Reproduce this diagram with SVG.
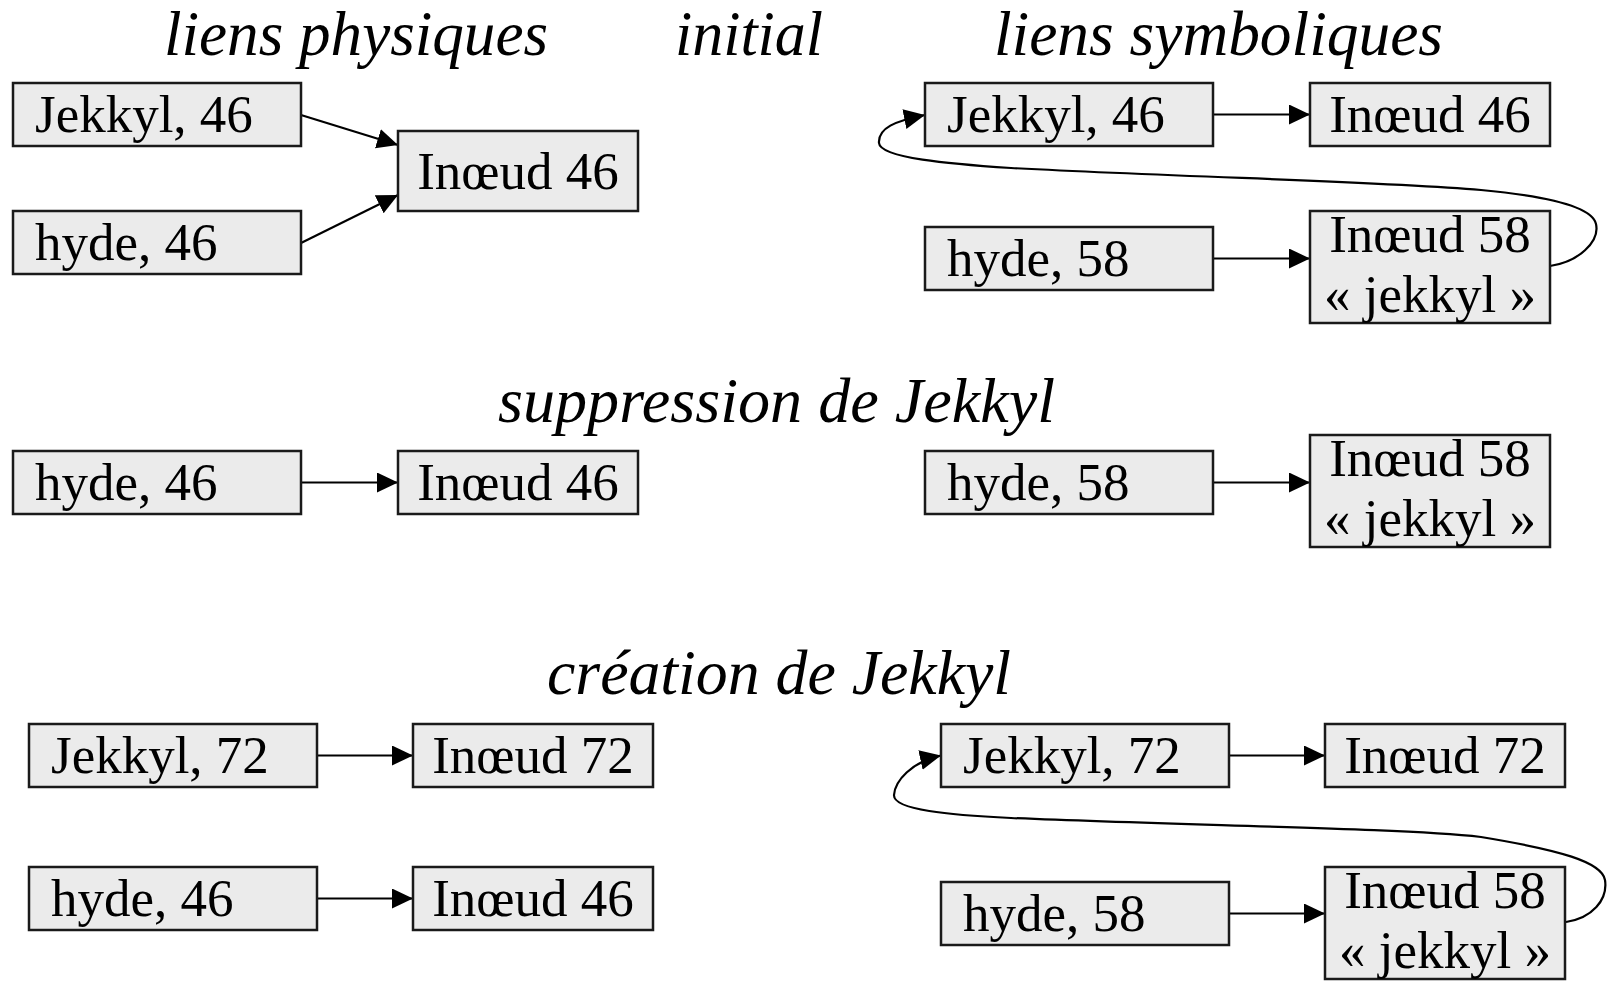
<svg xmlns="http://www.w3.org/2000/svg" width="1607" height="981" viewBox="0 0 1607 981">
  <style>
    .box { fill: #ebebeb; stroke: #1a1a1a; stroke-width: 2.5; }
    .lbl { font-family: "Liberation Serif", "Times New Roman", serif; font-size: 53px; fill: #000; }
    .ctr { text-anchor: middle; }
    .title { font-family: "Liberation Serif", "Times New Roman", serif; font-style: italic; font-size: 64px; fill: #000; }
    .edge { fill: none; stroke: #000; stroke-width: 2.2; marker-end: url(#arrow); }
  </style>
  <defs>
    <marker id="arrow" markerUnits="userSpaceOnUse" markerWidth="22" markerHeight="22" refX="21" refY="10" orient="auto">
      <path d="M0,0 L21,10 L0,20 Z" fill="#000"/>
    </marker>
  </defs>
  <rect width="1607" height="981" fill="#fff"/>

  <!-- headings -->
  <g id="titles">
    <text class="title" x="164" y="55" textLength="384" lengthAdjust="spacingAndGlyphs">liens physiques</text>
    <text class="title" x="675" y="55" textLength="148" lengthAdjust="spacingAndGlyphs">initial</text>
    <text class="title" x="994" y="55" textLength="449" lengthAdjust="spacingAndGlyphs">liens symboliques</text>
    <text class="title" x="498" y="422" textLength="557" lengthAdjust="spacingAndGlyphs">suppression de Jekkyl</text>
    <text class="title" x="547" y="694" textLength="464" lengthAdjust="spacingAndGlyphs">création de Jekkyl</text>
  </g>

  <!-- connectors -->
  <g id="connectors">
    <!-- initial, hard links -->
    <path class="edge" d="M301,115 L398,145"/>
    <path class="edge" d="M301,243 L398,195"/>
    <!-- initial, symbolic links -->
    <path class="edge" d="M1213,114.5 L1310,114.5"/>
    <path class="edge" d="M1213,258.5 L1310,258.5"/>
    <path class="edge" d="M1550,266 C1578,262 1600,242 1596,224 C1592,206 1545,196 1481,190 C1380,181 1200,178 1011,168 C950,164 880,158 879,143 C878,128 895,121 925,115"/>
    <!-- after removal -->
    <path class="edge" d="M301,482.5 L398,482.5"/>
    <path class="edge" d="M1213,482.5 L1310,482.5"/>
    <!-- after creation -->
    <path class="edge" d="M317,755.5 L413,755.5"/>
    <path class="edge" d="M317,898.5 L413,898.5"/>
    <path class="edge" d="M1229,755.5 L1325,755.5"/>
    <path class="edge" d="M1229,913.5 L1325,913.5"/>
    <path class="edge" d="M1566,922 C1592,918 1608,900 1605,880 C1602,862 1560,850 1481,837 C1400,828 1200,826 1011,818 C950,815 893,810 894,795 C895,781 911,762 941,755.5"/>
  </g>

  <!-- initial state, hard links -->
  <g id="n-jekkyl46-h">
    <rect class="box" x="13" y="83" width="288" height="63"/>
    <text class="lbl" x="35" y="132">Jekkyl, 46</text>
  </g>
  <g id="n-hyde46-h">
    <rect class="box" x="13" y="211" width="288" height="63"/>
    <text class="lbl" x="35" y="260">hyde, 46</text>
  </g>
  <g id="n-inode46-h">
    <rect class="box" x="398" y="131" width="240" height="80"/>
    <text class="lbl ctr" x="518" y="188.5">Inœud 46</text>
  </g>

  <!-- initial state, symbolic links -->
  <g id="n-jekkyl46-s">
    <rect class="box" x="925" y="83" width="288" height="63"/>
    <text class="lbl" x="947" y="132">Jekkyl, 46</text>
  </g>
  <g id="n-inode46-s">
    <rect class="box" x="1310" y="83" width="240" height="63"/>
    <text class="lbl ctr" x="1430" y="132">Inœud 46</text>
  </g>
  <g id="n-hyde58-s">
    <rect class="box" x="925" y="227" width="288" height="63"/>
    <text class="lbl" x="947" y="276">hyde, 58</text>
  </g>
  <g id="n-inode58-s">
    <rect class="box" x="1310" y="211" width="240" height="112"/>
    <text class="lbl ctr" x="1430" y="252">Inœud 58</text>
    <text class="lbl ctr" x="1430" y="311.5">« jekkyl »</text>
  </g>

  <!-- after removing Jekkyl -->
  <g id="n-hyde46-rm">
    <rect class="box" x="13" y="451" width="288" height="63"/>
    <text class="lbl" x="35" y="500">hyde, 46</text>
  </g>
  <g id="n-inode46-rm">
    <rect class="box" x="398" y="451" width="240" height="63"/>
    <text class="lbl ctr" x="518" y="500">Inœud 46</text>
  </g>
  <g id="n-hyde58-rm">
    <rect class="box" x="925" y="451" width="288" height="63"/>
    <text class="lbl" x="947" y="500">hyde, 58</text>
  </g>
  <g id="n-inode58-rm">
    <rect class="box" x="1310" y="435" width="240" height="112"/>
    <text class="lbl ctr" x="1430" y="476">Inœud 58</text>
    <text class="lbl ctr" x="1430" y="535.5">« jekkyl »</text>
  </g>

  <!-- after creating Jekkyl again -->
  <g id="n-jekkyl72-h">
    <rect class="box" x="29" y="724" width="288" height="63"/>
    <text class="lbl" x="51" y="773">Jekkyl, 72</text>
  </g>
  <g id="n-inode72-h">
    <rect class="box" x="413" y="724" width="240" height="63"/>
    <text class="lbl ctr" x="533" y="773">Inœud 72</text>
  </g>
  <g id="n-hyde46-cr">
    <rect class="box" x="29" y="867" width="288" height="63"/>
    <text class="lbl" x="51" y="916">hyde, 46</text>
  </g>
  <g id="n-inode46-cr">
    <rect class="box" x="413" y="867" width="240" height="63"/>
    <text class="lbl ctr" x="533" y="916">Inœud 46</text>
  </g>
  <g id="n-jekkyl72-s">
    <rect class="box" x="941" y="724" width="288" height="63"/>
    <text class="lbl" x="963" y="773">Jekkyl, 72</text>
  </g>
  <g id="n-inode72-s">
    <rect class="box" x="1325" y="724" width="240" height="63"/>
    <text class="lbl ctr" x="1445" y="773">Inœud 72</text>
  </g>
  <g id="n-hyde58-cr">
    <rect class="box" x="941" y="882" width="288" height="63"/>
    <text class="lbl" x="963" y="931">hyde, 58</text>
  </g>
  <g id="n-inode58-cr">
    <rect class="box" x="1325" y="867" width="240" height="112"/>
    <text class="lbl ctr" x="1445" y="908">Inœud 58</text>
    <text class="lbl ctr" x="1445" y="967.5">« jekkyl »</text>
  </g>
</svg>
